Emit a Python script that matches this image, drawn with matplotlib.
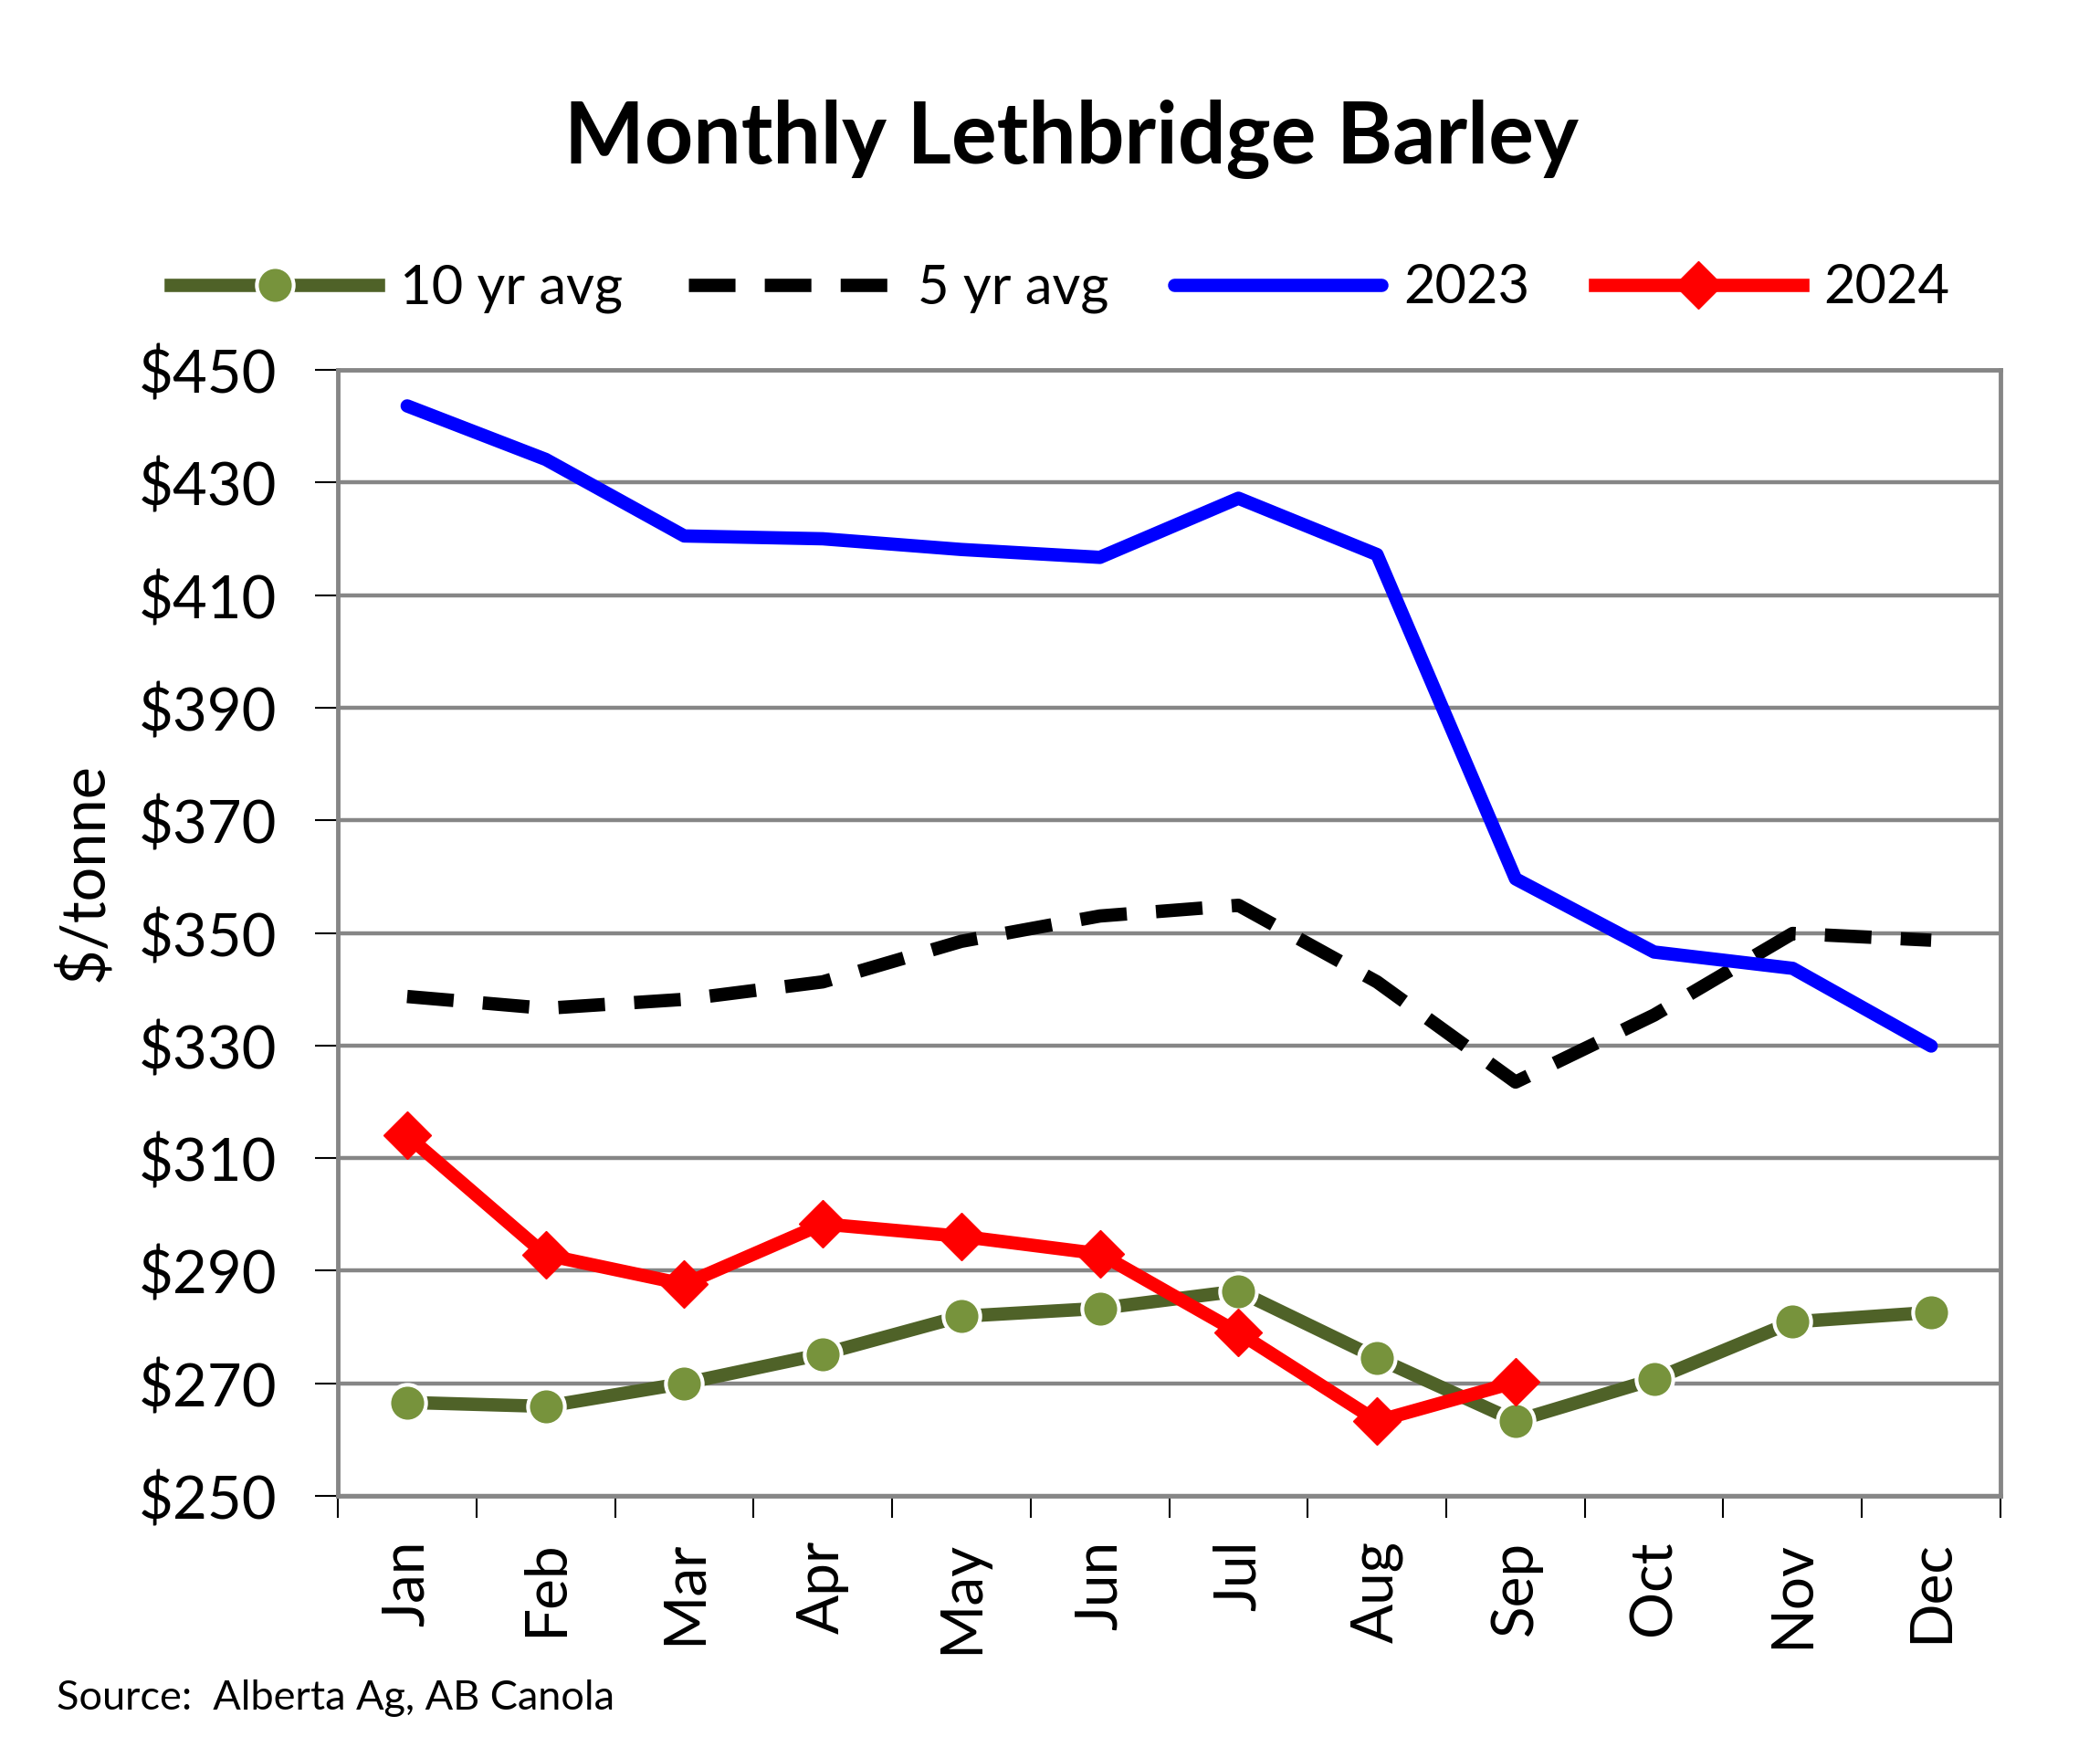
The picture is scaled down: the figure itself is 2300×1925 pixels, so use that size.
import matplotlib
matplotlib.use("Agg")
import matplotlib.pyplot as plt
import numpy as np

plt.rcParams['font.family'] = ['Lato', 'DejaVu Sans']

months = ['Jan', 'Feb', 'Mar', 'Apr', 'May', 'Jun', 'Jul', 'Aug', 'Sep', 'Oct', 'Nov', 'Dec']
avg10 = [266.6, 265.9, 270.0, 275.2, 281.9, 283.3, 286.4, 274.5, 263.3, 270.7, 280.9, 282.6]
avg5 = [338.7, 336.6, 338.2, 341.3, 348.5, 353.0, 354.9, 341.3, 323.5, 335.4, 349.9, 348.7]
y2023 = [443.6, 434.1, 420.5, 420.0, 418.1, 416.7, 427.2, 417.2, 359.6, 346.6, 343.7, 329.9]
y2024 = [314.0, 292.8, 287.6, 298.3, 296.1, 293.0, 279.0, 263.3, 270.2]
yticks = list(range(250, 451, 20))

x = np.arange(len(months))

fig = plt.figure(figsize=(23, 19.25), dpi=100)
ax = fig.add_axes([0.1609, 0.1491, 0.7917, 0.6405])

ax.plot(x, avg10, color='#4F6228', lw=10.5, marker='o', markersize=29,
        markerfacecolor='#77933C', markeredgecolor='white', markeredgewidth=3,
        label='10 yr avg', zorder=3)
ax.plot(x, avg5, color='black', lw=10.5, linestyle=(0, (3.5, 2.2)),
        label='5 yr avg', zorder=4)
ax.plot(x, y2023, color='#0000FF', lw=10.5, solid_capstyle='round',
        label='2023', zorder=5)
ax.plot(x[:len(y2024)], y2024, color='#FF0000', lw=10.5, marker='D', markersize=26,
        markerfacecolor='#FF0000', markeredgecolor='#FF0000',
        label='2024', zorder=6)

ax.set_xlim(-0.5, len(months) - 0.5)
ax.set_ylim(250, 450)
ax.set_yticks(yticks)
ax.set_yticklabels(['$%d' % v for v in yticks], fontsize=47)
ax.set_xticks(x)
ax.set_xticklabels(months, rotation=90, fontsize=46)
ax.set_xticks(np.arange(-0.5, len(months), 1), minor=True)
ax.tick_params(axis='x', which='major', length=0, pad=35)
ax.tick_params(axis='x', which='minor', length=17, width=1.5, color='black')
ax.tick_params(axis='y', length=18, width=1.5, color='black', pad=30)

ax.yaxis.grid(True, color='#868686', lw=3.2)
ax.set_axisbelow(True)
for s in ax.spines.values():
    s.set_color('#868686')
    s.set_linewidth(3.5)

fig.text(0.51, 0.921, 'Monthly Lethbridge Barley', ha='center', va='center',
         fontsize=67, fontweight='bold')
fig.text(0.04, 0.504, '$/tonne', rotation=90, ha='center', va='center', fontsize=48)
fig.text(0.027, 0.034, 'Source:  Alberta Ag, AB Canola', ha='left', va='center', fontsize=32.5)

leg = fig.legend(loc='center', bbox_to_anchor=(0.505, 0.836), ncol=4, frameon=False,
                 fontsize=43, handlelength=3.8, handletextpad=0.4, columnspacing=1.2)

fig.savefig('out.png', dpi=100)
